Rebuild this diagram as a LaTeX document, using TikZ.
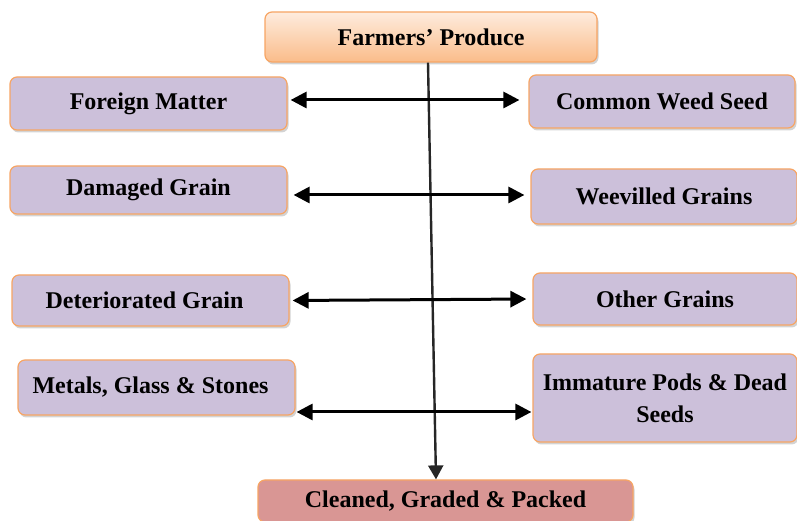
\documentclass[tikz,border=0pt]{standalone}
\usepackage{fontspec}
\setmainfont{Liberation Serif}
\usepackage{tikz}
\usetikzlibrary{arrows.meta, positioning, shadows}

\definecolor{lilac}{RGB}{204,192,218}
\definecolor{edgeorange}{RGB}{247,165,100}
\definecolor{peachtop}{RGB}{254,236,222}
\definecolor{peachbot}{RGB}{250,188,138}
\definecolor{rosefill}{RGB}{217,150,148}

\begin{document}
\begin{tikzpicture}[
  x=1pt, y=1pt,
  box/.style={rectangle, draw=edgeorange, line width=1.2pt, rounded corners=7pt,
             align=center, inner sep=0pt,
             font=\fontsize{24}{32}\selectfont\bfseries,
             drop shadow={shadow xshift=1.5pt, shadow yshift=-2.5pt, opacity=0.35}},
  itembox/.style={box, fill=lilac},
  headbox/.style={box, top color=peachtop, bottom color=peachbot},
  endbox/.style={box, fill=rosefill},
  biarrow/.style={{Triangle[length=16pt,width=16pt]}-{Triangle[length=16pt,width=16pt]},
                  line width=3pt, black, shorten <=3pt, shorten >=5pt},
  flow/.style={-{Triangle[length=14pt,width=15pt]}, line width=2.4pt, black!85}
]
\useasboundingbox (0,0) rectangle (797,521);
\clip (0,0) rectangle (797,521);

\node[headbox, minimum width=332pt, minimum height=50pt] (produce) at (431,484) {Farmers’ Produce};

\node[itembox, minimum width=277pt, minimum height=53pt] (foreign) at (148.5,417.5) {Foreign Matter};
\node[itembox, minimum width=266pt, minimum height=53pt] (weed) at (662,419.5) {Common Weed Seed};

\node[itembox, minimum width=277pt, minimum height=48pt] (damaged) at (148.5,331) {Damaged Grain};
\node[itembox, minimum width=266pt, minimum height=55pt] (weevil) at (664,324.5) {Weevilled Grains};

\node[itembox, minimum width=277pt, minimum height=51pt] (deteriorated) at (150.5,220.5) {Deteriorated Grain\hspace*{12pt}};
\node[itembox, minimum width=264pt, minimum height=52pt] (othergrains) at (665,222) {Other Grains};

\node[itembox, minimum width=277pt, minimum height=55pt] (metals) at (156.5,133.5) {Metals, Glass \& Stones\hspace*{12pt}};
\node[itembox, minimum width=264pt, minimum height=88pt] (immature) at (665,123) {Immature Pods \& Dead\\Seeds};

\node[endbox, minimum width=375pt, minimum height=42pt] (packed) at (445.5,20) {Cleaned, Graded \& Packed};

% main flow
\draw[flow] ([xshift=-3pt]produce.south) -- ([xshift=-9.5pt]packed.north);

% impurities removed on both sides
\draw[biarrow, shorten >=9pt] ([yshift=3.5pt]foreign.east) -- ([yshift=1.5pt]weed.west);
\draw[biarrow, shorten <=6pt, shorten >=6pt] ([yshift=-5pt]damaged.east) -- ([yshift=1.5pt]weevil.west);
\draw[biarrow, shorten >=6pt] (deteriorated.east) -- (othergrains.west);
\draw[biarrow, shorten <=1pt, shorten >=1pt] ([yshift=-24.5pt]metals.east) -- ([yshift=-14pt]immature.west);

\end{tikzpicture}
\end{document}
